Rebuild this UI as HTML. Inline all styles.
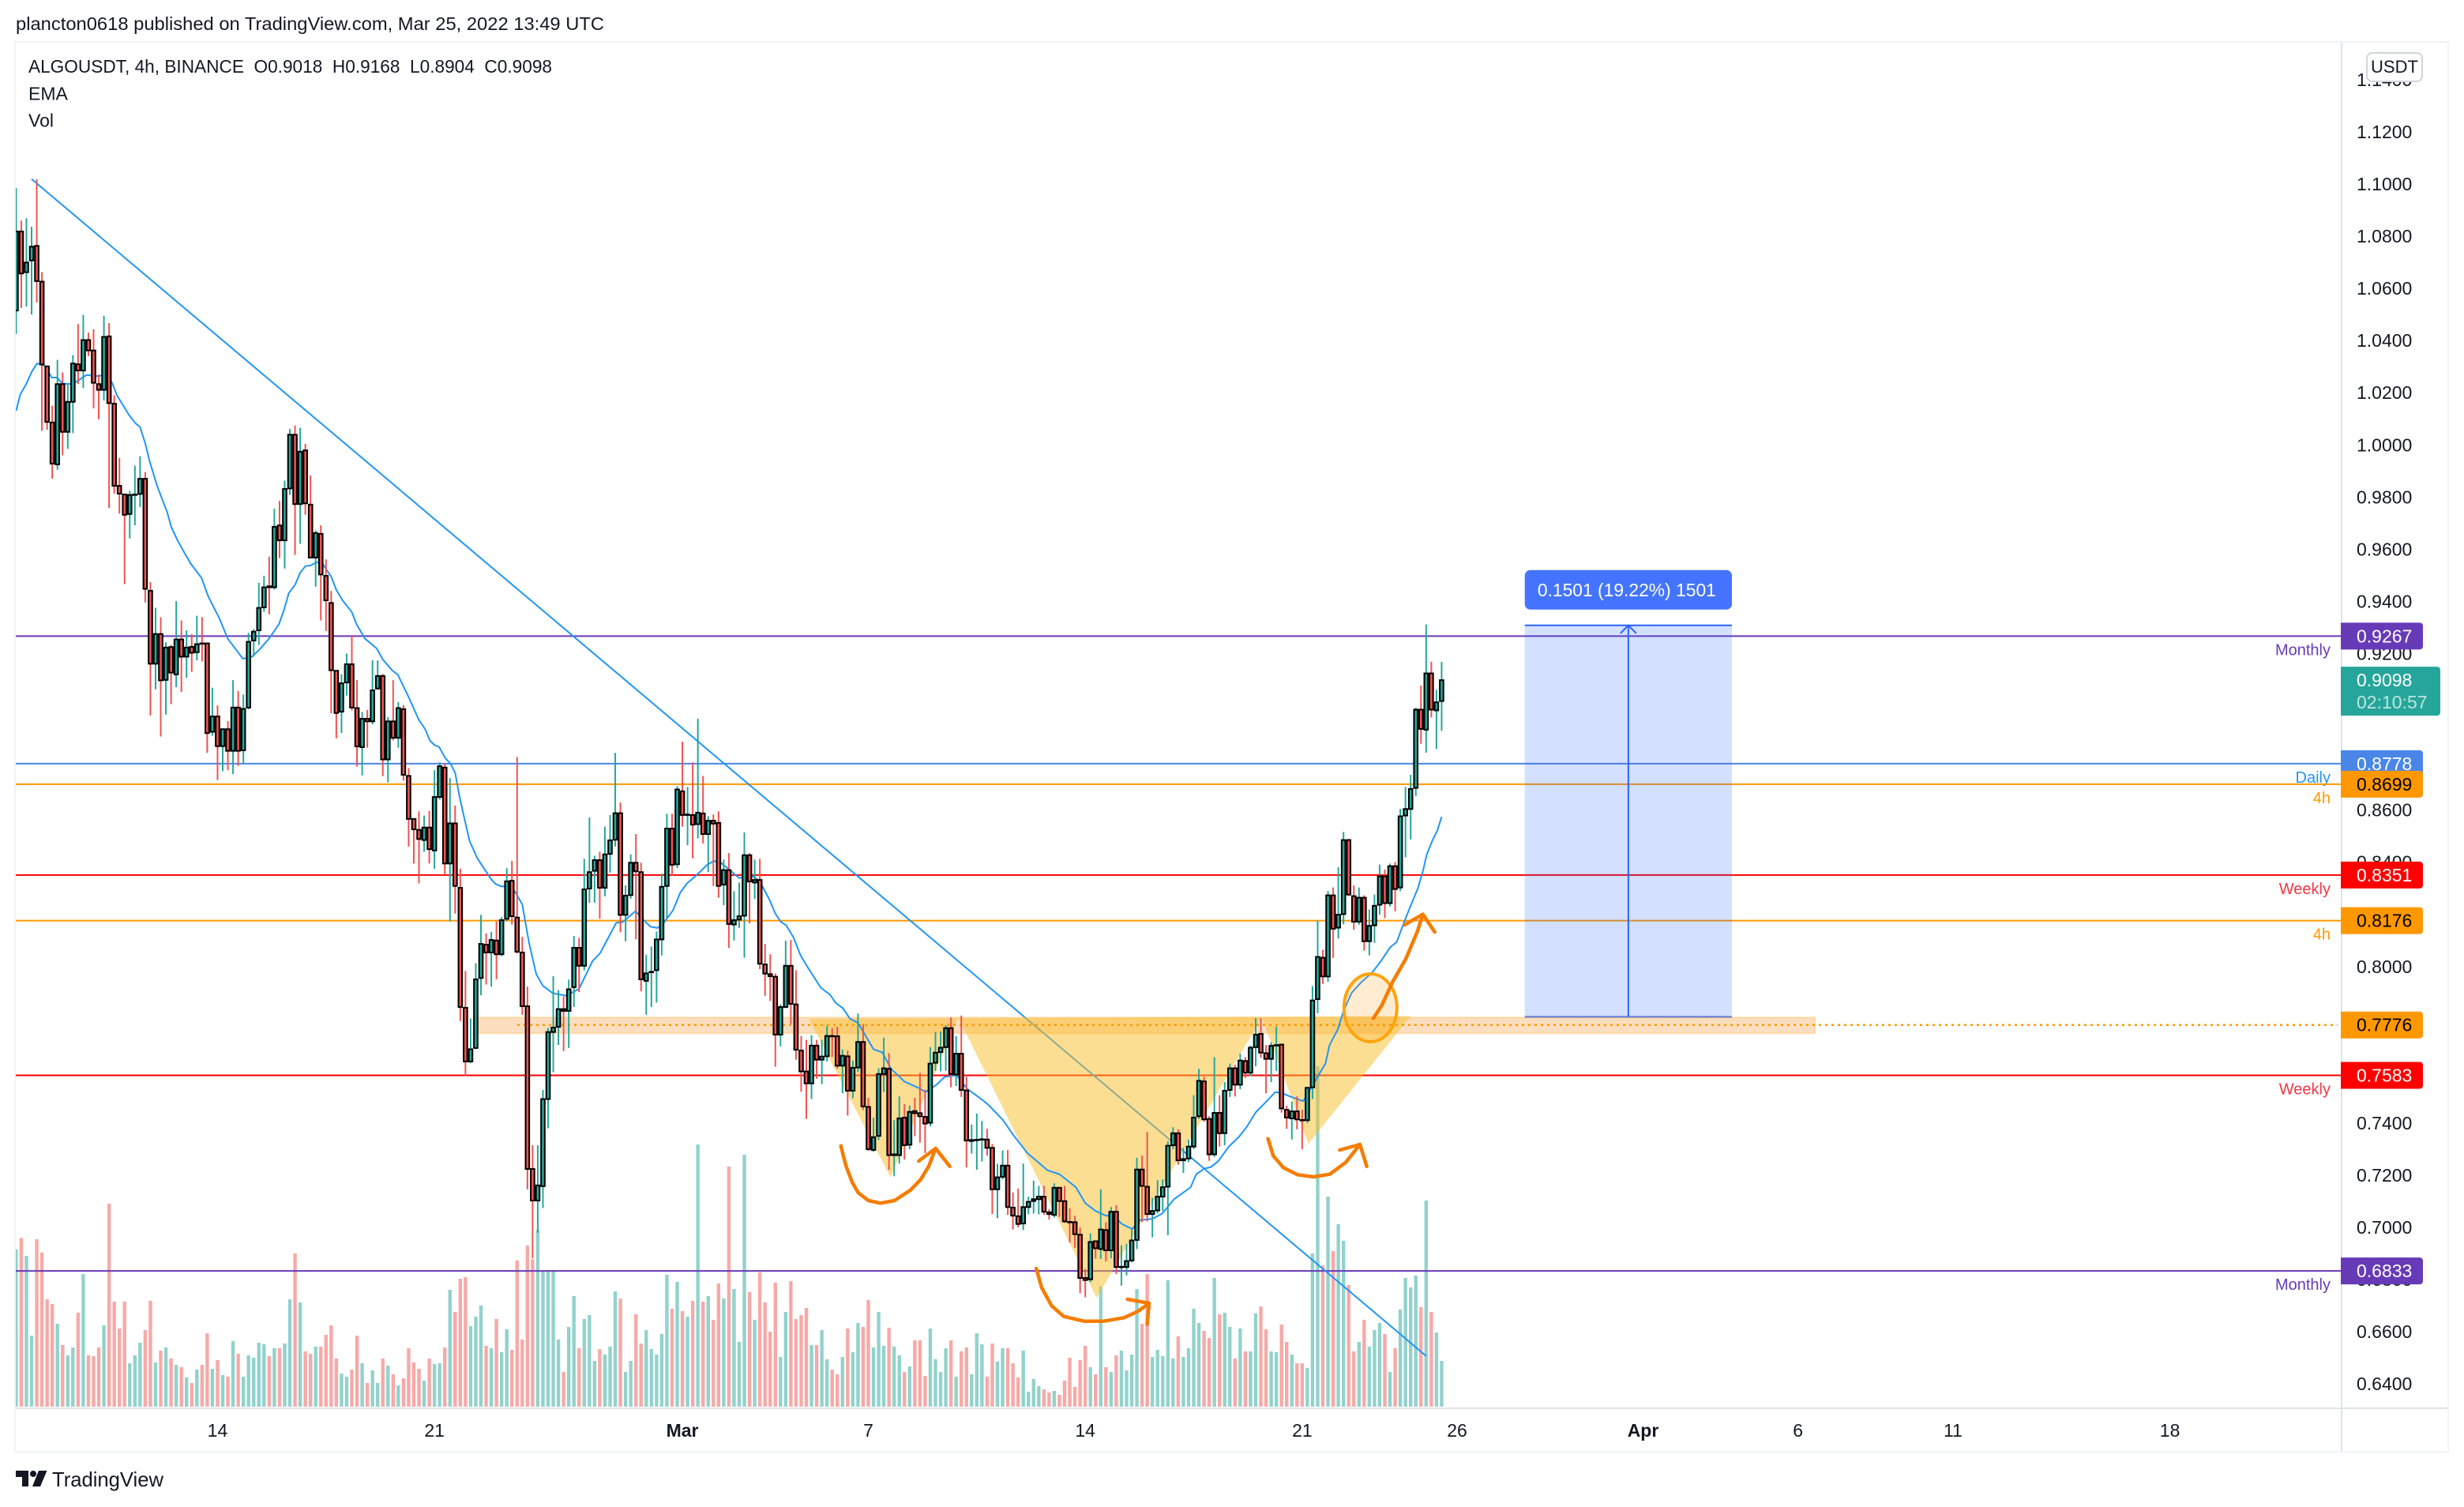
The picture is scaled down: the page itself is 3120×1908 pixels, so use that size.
<!DOCTYPE html>
<html lang="en">
<head>
<meta charset="utf-8">
<title>ALGOUSDT 4h chart</title>
<style>
html,body{margin:0;padding:0;background:#fff;}
svg{display:block;font-family:"Liberation Sans",sans-serif;}
text{fill:#131722;font-size:23px;}
</style>
</head>
<body>
<svg id="chart" xmlns="http://www.w3.org/2000/svg" width="3120" height="1908" viewBox="0 0 3120 1908">
  <defs>
    <clipPath id="plot-clip"><rect x="20" y="54" width="2944" height="1728"/></clipPath>
  </defs>
  <rect x="0" y="0" width="3120" height="1908" fill="#ffffff"/>
  <text x="20" y="30" dominant-baseline="central" textLength="745" lengthAdjust="spacingAndGlyphs">plancton0618 published on TradingView.com, Mar 25, 2022 13:49 UTC</text>
  <rect x="19" y="53" width="3081" height="1785" fill="none" stroke="#f0f3fa" stroke-width="2"/>
  <line x1="2965" y1="54" x2="2965" y2="1837" stroke="#e0e3eb" stroke-width="2"/>
  <line x1="20" y1="1783" x2="3099" y2="1783" stroke="#e0e3eb" stroke-width="2"/>

  <g id="volume-layer" clip-path="url(#plot-clip)"></g>
  <g id="level-layer"></g>
  <g id="trend-layer" clip-path="url(#plot-clip)"></g>
  <g id="position-layer"></g>
  <g id="zone-layer"></g>
  <g id="ema-layer" clip-path="url(#plot-clip)"></g>
  <g id="candle-layer" clip-path="url(#plot-clip)"></g>

  <g fill="none" stroke="#f57c00" stroke-width="4.5" stroke-linecap="round" stroke-linejoin="round">
    <polyline points="1064.8,1450.7 1068,1464 1071.4,1476.7 1079,1496.7 1086.7,1510 1099.5,1520 1114.8,1523.3 1132.7,1520 1153,1506.7 1165.8,1493.3 1176,1476.7 1184.7,1454"/>
    <polyline points="1163.3,1470 1184.7,1454 1202.6,1476.7"/>
    <polyline points="1312.2,1606 1318.9,1630 1331.6,1653.3 1347,1666.7 1372.4,1672.7 1398,1672.7 1423.5,1668.3 1441.3,1660 1455,1650"/>
    <polyline points="1427.6,1645 1455,1650 1452.6,1676.7"/>
    <polyline points="1605.6,1441.7 1612.2,1463.3 1625,1478.3 1642.9,1487.3 1663.3,1490 1683.7,1486.7 1704,1471.7 1722,1449"/>
    <polyline points="1696.4,1456 1722,1449 1730.6,1476.7"/>
  </g>
  <ellipse cx="1735.3" cy="1276" rx="33.5" ry="43" fill="rgba(255,152,0,0.18)" stroke="#ffa40c" stroke-width="4"/>
  <g fill="none" stroke="#f57c00" stroke-width="4.5" stroke-linecap="round" stroke-linejoin="round">
    <polyline points="1739,1289.3 1750,1272.3 1763.3,1243.3 1780,1214.3 1795,1178.6 1801.7,1157.6"/>
    <polyline points="1778.3,1171 1801.7,1157.6 1816.7,1180"/>
  </g>

  <g id="price-axis"></g>
  <g id="time-axis"></g>
  <g id="tag-layer"></g>

  <rect x="2997" y="67" width="70" height="36" rx="7" fill="#ffffff" stroke="#d1d4dc" stroke-width="2"/>
  <text x="3032" y="84.5" text-anchor="middle" dominant-baseline="central" style="font-size:22px">USDT</text>

  <g>
    <text x="36" y="84" dominant-baseline="central" textLength="663" lengthAdjust="spacingAndGlyphs">ALGOUSDT, 4h, BINANCE&#160;&#160;O0.9018&#160;&#160;H0.9168&#160;&#160;L0.8904&#160;&#160;C0.9098</text>
    <text x="36" y="118.5" dominant-baseline="central">EMA</text>
    <text x="36" y="152.5" dominant-baseline="central">Vol</text>
  </g>

  <g>
    <path d="M20 1862H36V1882H28V1870H20Z" fill="#131722"/>
    <circle cx="42" cy="1866" r="4" fill="#131722"/>
    <path d="M49 1862H59.5L51 1882H41Z" fill="#131722"/>
    <text x="66" y="1873" dominant-baseline="central" textLength="141" lengthAdjust="spacingAndGlyphs" style="font-size:26px">TradingView</text>
  </g>
</svg>
<script>
const opens=[1.0515,1.0818,1.0662,1.0707,1.0763,1.0626,1.0301,1.0086,.9925,1.0233,
1.0050,1.0165,1.0309,1.0285,1.0402,1.0362,1.0233,1.0211,1.0416,1.0158,
.9843,.9810,.9735,.9808,.9812,.9870,.9441,.9161,.9275,.9099,
.9225,.9120,.9254,.9188,.9226,.9205,.9239,.9239,.8900,.8959,
.8845,.8910,.8827,.8993,.8829,.8993,.9250,.9289,.9377,.9458,
.9454,.9691,.9634,.9833,1.0039,.9773,.9979,.9771,.9568,.9659,
.9498,.9394,.9134,.8977,.9089,.9159,.8991,.8841,.8950,.8940,
.9066,.9114,.8794,.8940,.8877,.8987,.8731,.8566,.8524,.8485,
.8533,.8445,.8650,.8763,.8395,.8549,.8302,.7842,.7636,.7688,
.7956,.8084,.8054,.8100,.8047,.8183,.8329,.8188,.8054,.7848,
.7224,.7103,.7158,.7492,.7749,.7769,.7837,.7830,.7921,.8072,
.8003,.8299,.8367,.8408,.8302,.8432,.8486,.8588,.8198,.8274,
.8398,.8362,.7945,.7978,.7986,.8104,.8309,.8529,.8392,.8672,
.8581,.8581,.8546,.8587,.8508,.8559,.8551,.8314,.8370,.8161,
.8180,.8195,.8427,.8322,.8332,.8008,.7971,.7961,.7739,.7845,
.8003,.7855,.7678,.7598,.7552,.7697,.7643,.7656,.7734,.7733,
.7620,.7656,.7524,.7613,.7711,.7462,.7297,.7351,.7588,.7608,
.7277,.7277,.7421,.7317,.7446,.7438,.7424,.7401,.7631,.7672,
.7691,.7764,.7586,.7666,.7525,.7331,.7335,.7337,.7337,.7305,
.7146,.7194,.7237,.7076,.7043,.7015,.7078,.7101,.7108,.7118,
.7058,.7048,.7152,.7101,.7021,.7020,.6972,.6806,.6801,.6947,
.6917,.6990,.6912,.7060,.6848,.6848,.6873,.6952,.7222,.7156,
.7051,.7065,.7118,.7156,.7315,.7361,.7257,.7264,.7310,.7426,
.7560,.7416,.7280,.7439,.7361,.7527,.7610,.7547,.7638,.7593,
.7691,.7742,.7668,.7646,.7697,.7701,.7451,.7418,.7445,.7412,
.7411,.7537,.7875,.8034,.7962,.8273,.8149,.8201,.8485,.8270,
.8172,.8264,.8097,.8158,.8237,.8346,.8243,.8385,.8303,.8579,
.8604,.8685,.8985,.8908,.9124,.8982,.9018];
const closes=[1.0818,1.0657,1.0699,1.0760,1.0628,1.0308,1.0088,.9928,1.0233,1.0050,
1.0165,1.0312,1.0285,1.0402,1.0362,1.0238,1.0211,1.0414,1.0160,.9843,
.9813,.9732,.9808,.9810,.9870,.9448,.9161,.9275,.9097,.9223,
.9127,.9254,.9188,.9223,.9203,.9236,.9238,.8895,.8959,.8845,
.8910,.8827,.8993,.8827,.8988,.9245,.9284,.9375,.9454,.9454,
.9686,.9634,.9831,1.0039,.9773,.9974,.9776,.9568,.9662,.9503,
.9404,.9136,.8972,.9086,.9159,.8993,.8844,.8950,.8940,.9059,
.9114,.8794,.8940,.8877,.8991,.8735,.8566,.8526,.8489,.8533,
.8450,.8650,.8768,.8395,.8549,.8309,.7845,.7636,.7683,.7951,
.8087,.8054,.8102,.8047,.8178,.8327,.8193,.8057,.7848,.7224,
.7103,.7161,.7492,.7749,.7766,.7837,.7830,.7913,.8072,.8003,
.8296,.8362,.8408,.8302,.8430,.8484,.8588,.8198,.8272,.8398,
.8365,.7951,.7974,.7980,.8104,.8306,.8529,.8390,.8679,.8581,
.8583,.8544,.8590,.8508,.8559,.8548,.8309,.8370,.8163,.8178,
.8193,.8427,.8326,.8332,.8011,.7973,.7963,.7739,.7845,.8003,
.7857,.7681,.7598,.7552,.7697,.7643,.7655,.7734,.7733,.7620,
.7658,.7524,.7612,.7711,.7464,.7300,.7346,.7588,.7610,.7277,
.7280,.7418,.7315,.7443,.7438,.7426,.7398,.7628,.7670,.7689,
.7764,.7588,.7666,.7527,.7333,.7335,.7336,.7338,.7305,.7146,
.7192,.7237,.7078,.7045,.7013,.7078,.7098,.7108,.7118,.7060,
.7051,.7152,.7101,.7023,.7020,.6974,.6806,.6798,.6944,.6920,
.6992,.6912,.7060,.6848,.6849,.6871,.6950,.7222,.7159,.7051,
.7063,.7118,.7154,.7313,.7361,.7257,.7262,.7310,.7421,.7562,
.7414,.7280,.7439,.7361,.7524,.7610,.7547,.7640,.7593,.7689,
.7739,.7670,.7646,.7696,.7699,.7456,.7421,.7445,.7414,.7411,
.7535,.7870,.8037,.7962,.8273,.8145,.8199,.8485,.8276,.8172,
.8264,.8097,.8156,.8233,.8346,.8243,.8385,.8297,.8576,.8604,
.8681,.8985,.8911,.9124,.8985,.9013,.9098];
const highs=[1.0985,1.0860,1.0869,1.0836,1.1018,1.0662,1.0301,1.0150,1.0326,1.0278,
1.0233,1.0344,1.0463,1.0498,1.0430,1.0443,1.0270,1.0495,1.0467,1.0190,
.9950,.9810,.9823,.9920,.9956,.9896,.9474,.9376,.9339,.9243,
.9233,.9401,.9327,.9289,.9274,.9345,.9340,.9241,.9069,.9001,
.8914,.8941,.9098,.9056,.9043,.9279,.9294,.9471,.9498,.9571,
.9755,.9785,.9863,1.0061,1.0074,1.0066,1.0004,.9883,.9672,.9692,
.9561,.9440,.9136,.9121,.9200,.9271,.9098,.8976,.8984,.9174,
.9174,.9122,.8956,.9098,.9014,.9002,.8761,.8566,.8595,.8579,
.8597,.8753,.8783,.8778,.8723,.8617,.8375,.7983,.7801,.8013,
.8198,.8127,.8132,.8173,.8190,.8377,.8405,.8803,.8114,.7923,
.7315,.7315,.7527,.7765,.7963,.7910,.7885,.7950,.8117,.8110,
.8413,.8571,.8425,.8440,.8536,.8581,.8819,.8629,.8311,.8430,
.8508,.8398,.8045,.8077,.8134,.8356,.8586,.8586,.8692,.8862,
.8689,.8783,.8950,.8731,.8576,.8583,.8595,.8410,.8435,.8289,
.8322,.8514,.8435,.8410,.8413,.8087,.8047,.7973,.7855,.8099,
.8102,.7986,.7734,.7719,.7737,.7719,.7719,.7772,.7764,.7769,
.7683,.7678,.7640,.7820,.7779,.7497,.7421,.7610,.7727,.7668,
.7411,.7502,.7472,.7467,.7497,.7593,.7527,.7691,.7749,.7751,
.7775,.7805,.7734,.7812,.7578,.7394,.7436,.7408,.7378,.7320,
.7244,.7295,.7297,.7134,.7149,.7245,.7118,.7179,.7159,.7159,
.7070,.7169,.7156,.7159,.7073,.7045,.7000,.6841,.6977,.6950,
.7146,.7020,.7078,.7085,.6932,.6937,.6992,.7267,.7275,.7366,
.7113,.7181,.7184,.7330,.7384,.7376,.7305,.7337,.7507,.7608,
.7577,.7426,.7653,.7507,.7557,.7628,.7623,.7666,.7653,.7697,
.7802,.7802,.7699,.7710,.7769,.7704,.7466,.7482,.7502,.7451,
.7540,.7925,.8176,.8064,.8289,.8303,.8381,.8516,.8490,.8311,
.8303,.8273,.8219,.8276,.8391,.8372,.8395,.8401,.8604,.8688,
.8735,.8992,.9077,.9311,.9169,.9061,.9168];
const lows=[1.0425,1.0525,1.0530,1.0500,1.0546,1.0054,1.0058,.9870,.9905,.9960,
.9985,1.0045,1.0233,1.0218,1.0340,1.0140,1.0098,1.0170,.9758,.9813,
.9736,.9466,.9641,.9692,.9762,.9396,.8963,.9063,.8882,.8966,
.9006,.9071,.9053,.9107,.9130,.9174,.9170,.8819,.8885,.8715,
.8749,.8753,.8738,.8769,.8779,.8986,.9188,.9233,.9360,.9350,
.9445,.9566,.9526,.9808,.9578,.9621,.9732,.9568,.9456,.9327,
.9286,.8971,.8875,.8895,.9039,.8982,.8767,.8733,.8839,.8928,
.9061,.8730,.8706,.8867,.8839,.8713,.8460,.8395,.8319,.8440,
.8395,.8375,.8640,.8352,.8173,.8203,.7791,.7580,.7630,.7683,
.7890,.7931,.7923,.7951,.8040,.8173,.8161,.8050,.7815,.7146,
.6881,.6980,.7074,.7380,.7595,.7699,.7676,.7688,.7845,.7902,
.7986,.8244,.8245,.8183,.8269,.8360,.8460,.8132,.8097,.8260,
.8104,.7905,.7815,.7845,.7862,.8042,.8185,.8349,.8378,.8536,
.8465,.8415,.8491,.8472,.8362,.8309,.8264,.8235,.8072,.8100,
.8148,.8034,.8165,.8259,.7990,.7888,.7868,.7616,.7694,.7840,
.7780,.7643,.7520,.7416,.7492,.7570,.7550,.7636,.7653,.7608,
.7514,.7429,.7495,.7596,.7450,.7293,.7290,.7335,.7519,.7220,
.7196,.7245,.7260,.7300,.7350,.7325,.7285,.7388,.7600,.7598,
.7600,.7537,.7542,.7500,.7230,.7283,.7221,.7253,.7275,.7051,
.7035,.7184,.7048,.6992,.7000,.6990,.7050,.7053,.7050,.7048,
.7030,.7038,.7040,.7017,.6942,.6922,.6748,.6732,.6790,.6880,
.6879,.6870,.6881,.6821,.6777,.6816,.6866,.6917,.7020,.7023,
.6962,.7053,.7063,.6970,.7300,.7240,.7209,.7250,.7300,.7416,
.7406,.7255,.7270,.7310,.7315,.7500,.7502,.7530,.7573,.7580,
.7618,.7650,.7514,.7557,.7600,.7440,.7378,.7337,.7376,.7300,
.7400,.7492,.7821,.7933,.7942,.8033,.8108,.8162,.8270,.8141,
.8160,.8061,.8043,.8091,.8199,.8185,.8230,.8212,.8289,.8419,
.8487,.8654,.8854,.8820,.8955,.8834,.8904];
const volumes=[598,641,573,270,636,585,408,390,315,234,195,225,357,504,195,192,225,309,771,399,
297,399,165,195,243,291,402,168,213,225,183,159,150,111,90,141,159,279,144,177,
120,114,249,201,114,195,186,243,237,192,222,222,240,408,582,396,210,201,228,228,
273,309,183,126,114,141,270,165,90,138,90,183,156,123,81,108,222,168,144,99,
183,162,165,225,444,360,486,492,306,342,384,231,222,333,207,294,216,555,255,612,
560,671,516,516,516,255,132,303,420,222,333,348,174,219,198,228,438,411,132,174,
351,240,291,219,198,276,501,372,474,363,342,402,996,399,420,330,468,411,912,447,
246,957,435,330,510,396,285,471,189,360,477,333,348,375,234,234,291,180,141,123,
189,297,207,318,303,405,225,360,231,300,228,195,132,153,252,252,117,297,180,132,
222,252,114,210,225,123,279,237,114,240,171,222,222,165,111,213,57,105,78,66,
54,60,45,99,186,75,177,231,150,123,456,150,132,195,213,138,198,447,315,504,
189,216,192,480,183,267,189,222,372,318,288,261,489,351,357,303,183,297,210,210,
354,381,294,210,207,312,246,198,165,165,147,582,1293,537,798,591,693,630,462,210,
246,330,228,291,318,276,132,222,369,489,453,498,378,783,360,282,174];
const emaBars=[0,0.8,1.95,3.1,4.05,5.07,5.85,6.86,7.96,8.97,10.9,12.1,13.65,16,17.55,18.7,19.5,21.84,23,24,24.96,25.9,27.3,29.25,30.03,31.2,32.6,33.8,35.9,37.2,39.4,40.95,42.5,43.9,45.6,47.2,49,50.9,51.9,52.8,54.05,55,56,57.1,58.1,59.3,61,62,63.2,65,65.9,67.5,69.8,71,72.9,73.9,76.05,78,79.2,80.1,81,81.9,83.1,84.1,85,85.8,86.7,87.8,89.3,92,92.8,93.95,95.5,96.7,98,99.3,100.7,102,103.9,106.5,109,111.6,113.1,114.7,116.2,117.4,119.95,121,122.8,124.2,125.2,127.2,128.6,129.9,131.5,133.8,135.1,136.5,138.5,140,142.4,143.9,145.8,147,148,149.1,150.5,151.9,153.3,155.8,157.6,158.7,160.1,161.4,163,164.2,166,167.7,169.4,172,174.7,176.1,178.2,179.8,182.1,184.1,187.2,188.4,191.1,193,195.8,199.7,202,205.2,207,209,211,212.6,214.1,216.1,217.6,220,221.9,224.2,227.4,228.5,230.1,231.3,232.8,234.8,236.7,238.3,240,241.8,243.8,245,247.3,249.2,250.8,252.3,253.5,254.3,255.9,257,258.6,260.5,262.5,264.3,266,267.3,268.5,270,271.4,272.4,273.1,274.2,275.2,276];
const emaValues=[1.0131,1.0193,1.0233,1.0283,1.0312,1.0309,1.0298,1.0258,1.0258,1.0235,1.0233,1.0248,1.0268,1.0263,1.0273,1.0233,1.0191,1.0115,1.0085,1.0068,1.0009,.9934,.9843,.9742,.9686,.9636,.9586,.9545,.9490,.9419,.9333,.9258,.9217,.9180,.9187,.9217,.9258,.9313,.9369,.9432,.9465,.9510,.9535,.9538,.9550,.9545,.9495,.9444,.9404,.9359,.9313,.9258,.9220,.9177,.9134,.9119,.9031,.8945,.8910,.8867,.8849,.8842,.8799,.8778,.8743,.8657,.8576,.8481,.8415,.8334,.8317,.8307,.8309,.8284,.8238,.8092,.7971,.7926,.7898,.7888,.7915,.8021,.8052,.8112,.8168,.8170,.8213,.8188,.8153,.8148,.8163,.8216,.8284,.8319,.8346,.8390,.8405,.8397,.8365,.8339,.8349,.8329,.8259,.8203,.8173,.8158,.8112,.8042,.7996,.7919,.7892,.7860,.7840,.7801,.7784,.7744,.7683,.7671,.7608,.7559,.7535,.7519,.7547,.7577,.7583,.7532,.7487,.7467,.7411,.7356,.7285,.7219,.7204,.7154,.7093,.7063,.7045,.7043,.7013,.6994,.7028,.7033,.7053,.7108,.7154,.7204,.7226,.7231,.7255,.7310,.7346,.7386,.7441,.7477,.7519,.7515,.7497,.7484,.7537,.7588,.7628,.7699,.7759,.7830,.7900,.7941,.7976,.8022,.8073,.8094,.8158,.8233,.8300,.8368,.8428,.8483,.8523,.8574];
const priceTicks=['1.1400','1.1200','1.1000','1.0800','1.0600','1.0400','1.0200','1.0000','0.9800','0.9600','0.9400','0.9200','0.9000','0.8800','0.8600','0.8400','0.8200','0.8000','0.7800','0.7600','0.7400','0.7200','0.7000','0.6800','0.6600','0.6400'];
const timeTickBars=[39,81,129,165,207,249,279,315,345,375,417];
const timeTickLabels=['14','21','Mar','7','14','21','26','Apr','6','11','18'];
const levelPrices=[0.9267,0.8778,0.8699,0.8351,0.8176,0.7583,0.6833];
const levelKinds=['Monthly','Daily','4h','Weekly','4h','Weekly','Monthly'];
const trendBars=[3,273];
const trendPrices=[1.1019,0.6507];
const patternBars=[153.5,169.3,182.4,209.2,241.2,250.2,270];
const patternPrices=[0.7799,0.7192,0.7805,0.6730,0.7805,0.7320,0.7810];
const zoneBars=[88.6,348.3];
const zonePrices=[0.7805,0.7744];
const resistancePrice=0.7776;
const lastPrice=0.9098;
const countdown='02:10:57';
const positionBars=[292.1,332.2];
const positionPrices=[0.7807,0.9308];
const positionLabel='0.1501 (19.22%) 1501';

const SVGNS='http://www.w3.org/2000/svg';
const xOf=i=>20.4+6.54*i;
const yOf=p=>233+(1.10-p)*3302.5;
const volY=v=>1781-v/3;
const UP='#26a69a', DOWN='#ef5350';
const kindStyle={Monthly:{line:'#673ab7',label:'#673ab7',text:'#ffffff'},Daily:{line:'#4a86e8',label:'#2196f3',text:'#ffffff'},'4h':{line:'#ff9800',label:'#ff9800',text:'#000000'},Weekly:{line:'#ff0000',label:'#f23645',text:'#ffffff'}};

function make(tag,attrs,parent,txt){
  const n=document.createElementNS(SVGNS,tag);
  for(const k in attrs){n.setAttribute(k,attrs[k]);}
  if(txt!==undefined){n.textContent=txt;}
  parent.appendChild(n);
  return n;
}
function layer(id){return document.getElementById(id);}

// volume bars
for(let i=0;i<volumes.length;i++){
  const up=closes[i]>=opens[i];
  const el=make('rect',{x:xOf(i)-2.2,y:volY(volumes[i]),width:4.4,height:1781-volY(volumes[i]),fill:up?'rgb(146,210,204)':'rgb(247,169,167)'},layer('volume-layer'));
  
  
}

// horizontal levels
for(let i=0;i<levelPrices.length;i++){
  const st=kindStyle[levelKinds[i]];
  const ln=make('line',{x1:20,x2:2964,y1:yOf(levelPrices[i]),y2:yOf(levelPrices[i]),stroke:st.line,'stroke-width':2},layer('level-layer'));
  
  
  const lb=make('text',{x:2951,y:yOf(levelPrices[i])+18,'text-anchor':'end','dominant-baseline':'central',style:'font-size:20px;fill:'+st.label},layer('level-layer'),levelKinds[i]);
  
  
}

// trend line
const trend=make('line',{x1:xOf(trendBars[0]),y1:yOf(trendPrices[0]),x2:xOf(trendBars[1]),y2:yOf(trendPrices[1]),stroke:'#2196f3','stroke-width':2},layer('trend-layer'));



// position tool
const px0=xOf(positionBars[0]),px1=xOf(positionBars[1]),py0=yOf(positionPrices[0]),py1=yOf(positionPrices[1]),pmid=(px0+px1)/2;
const pbox=make('rect',{x:px0,y:py1,width:px1-px0,height:py0-py1,fill:'rgba(41,98,255,0.2)'},layer('position-layer'));


const ptop=make('line',{x1:px0,x2:px1,y1:py1,y2:py1,stroke:'#2962ff','stroke-width':2},layer('position-layer'));


const pbot=make('line',{x1:px0,x2:px1,y1:py0,y2:py0,stroke:'#2962ff','stroke-width':2},layer('position-layer'));


const pshaft=make('line',{x1:pmid,x2:pmid,y1:py0,y2:py1,stroke:'#2962ff','stroke-width':2},layer('position-layer'));


const phead=make('polyline',{points:(pmid-10)+','+(py1+10)+' '+pmid+','+py1+' '+(pmid+10)+','+(py1+10),fill:'none',stroke:'#2962ff','stroke-width':2},layer('position-layer'));


const plab=make('rect',{x:px0,y:py1-70,width:px1-px0,height:50,rx:7,fill:'#4474ff'},layer('position-layer'));


const ptxt=make('text',{x:pmid-2,y:py1-45,'text-anchor':'middle','dominant-baseline':'central',textLength:226,lengthAdjust:'spacingAndGlyphs',style:'font-size:23px;fill:#ffffff'},layer('position-layer'),positionLabel);



// zones
const zone=make('rect',{x:xOf(zoneBars[0]),y:yOf(zonePrices[0]),width:xOf(zoneBars[1])-xOf(zoneBars[0]),height:yOf(zonePrices[1])-yOf(zonePrices[0]),fill:'rgba(245,124,0,0.25)',stroke:'rgba(255,183,77,0.35)','stroke-width':2},layer('zone-layer'));


const pattern=make('polygon',{points:patternBars.map((b,i)=>xOf(b)+','+yOf(patternPrices[i])).join(' '),fill:'rgba(249,190,40,0.5)'},layer('zone-layer'));


const dotted=make('line',{x1:655,x2:2960,y1:yOf(resistancePrice),y2:yOf(resistancePrice),stroke:'#ff9800','stroke-width':2.5,'stroke-dasharray':'3 5'},layer('zone-layer'));



// EMA
const ema=make('polyline',{points:emaBars.map((b,i)=>xOf(b)+','+yOf(emaValues[i])).join(' '),fill:'none',stroke:'#2196f3','stroke-width':2,'stroke-linejoin':'round'},layer('ema-layer'));



// candles
for(let i=0;i<opens.length;i++){
  const up=closes[i]>=opens[i];
  const color=up?UP:DOWN;
  const w=make('line',{x1:xOf(i),x2:xOf(i),y1:yOf(highs[i]),y2:yOf(lows[i]),stroke:color,'stroke-width':2},layer('candle-layer'));
  
  
  const top=yOf(Math.max(opens[i],closes[i]));
  const bot=yOf(Math.min(opens[i],closes[i]));
  const b=make('rect',{x:xOf(i)-2.3,y:top,width:4.6,height:Math.max(bot-top,0.6),fill:color,stroke:'#000000','stroke-width':2},layer('candle-layer'));
  
  
}

// price axis
for(const t of priceTicks){
  const el=make('text',{x:2984,y:yOf(parseFloat(t)),'dominant-baseline':'central'},layer('price-axis'),t);
  
  
}

// time axis
for(let i=0;i<timeTickBars.length;i++){
  const isMonth=isNaN(Number(timeTickLabels[i]));
  const el=make('text',{x:xOf(timeTickBars[i]),y:1811,'text-anchor':'middle','dominant-baseline':'central','font-weight':isMonth?'bold':'normal'},layer('time-axis'),timeTickLabels[i]);
  
  
}

// price tags
function tagPath(y0,y1,xr){return 'M2964 '+y0+'H'+(xr-4)+'a4 4 0 0 1 4 4V'+(y1-4)+'a4 4 0 0 1 -4 4H2964Z';}
function drawTag(price,fill,textFill){
  const y=yOf(price);
  const r=make('path',{d:tagPath(y-17,y+17,3068),fill:fill},layer('tag-layer'));
  
  
  const t=make('text',{x:2984,y:y,'dominant-baseline':'central',style:'fill:'+textFill},layer('tag-layer'),price.toFixed(4));
  
  
}
for(let i=0;i<levelPrices.length;i++){
  const st=kindStyle[levelKinds[i]];
  drawTag(levelPrices[i],st.line,st.text);
}
drawTag(resistancePrice,'#ff9800','#000000');
const ly=yOf(lastPrice);
const lastBox=make('path',{d:tagPath(ly-17,ly+45,3090),fill:'#26a69a'},layer('tag-layer'));


const lastTxt=make('text',{x:2984,y:ly,'dominant-baseline':'central',style:'fill:#ffffff'},layer('tag-layer'),lastPrice.toFixed(4));


const cdTxt=make('text',{x:2984,y:ly+28,'dominant-baseline':'central',style:'fill:rgba(255,255,255,0.7)'},layer('tag-layer'),countdown);


</script>
</body>
</html>
